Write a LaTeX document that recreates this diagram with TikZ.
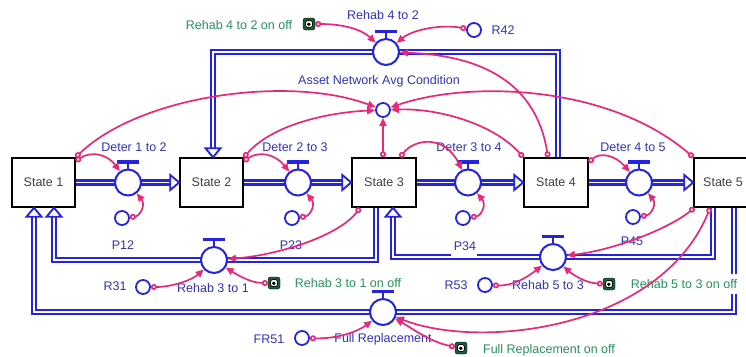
\documentclass[tikz,border=0pt]{standalone}
\usepackage{fontspec}
\setmainfont{Liberation Sans}
\usetikzlibrary{arrows.meta}
\pgfdeclarelayer{back}
\pgfdeclarelayer{bg}
\pgfsetlayers{back,bg,main}
\definecolor{pipeblue}{RGB}{35,35,225}
\definecolor{txtblue}{RGB}{50,50,185}
\definecolor{txtgreen}{RGB}{40,145,95}
\definecolor{linkpink}{RGB}{232,40,120}
\definecolor{swgreen}{RGB}{25,95,55}
\newcommand\valvebar[1]{%
  \draw[pipeblue, line width=1.6pt] (#1.north) -- ++(0,-5);
  \draw[pipeblue, line width=3.2pt] (#1.north) ++(-11,-6.5) -- ++(22,0);}
\newcommand\pipehead[2]{\draw[phead, shift={(#1)}, rotate=#2] (0,0) -- (-9,-7.5) -- (-9,7.5) -- cycle;}
\begin{document}
\begin{tikzpicture}[x=1pt,y=-1pt,
  lbl/.style={font=\fontsize{12.5}{14}\selectfont, text=txtblue, inner sep=1pt, fill=white},
  glbl/.style={lbl, text=txtgreen},
  stock/.style={draw=black, line width=1.5pt, fill=white, minimum width=63pt, minimum height=49pt, font=\fontsize{12.5}{14}\selectfont, text=black!75, inner sep=0pt},
  valve/.style={circle, draw=pipeblue, line width=2pt, fill=white, minimum size=26pt, inner sep=0pt},
  aux/.style={circle, draw=pipeblue, line width=1.8pt, fill=white, minimum size=14pt, inner sep=0pt},
  pipe/.style={draw=pipeblue, double=white, line width=2.3pt, double distance=1.8pt},
  phead/.style={draw=pipeblue, fill=white, line width=1.9pt, line join=miter},
  link/.style={draw=linkpink, line width=1.7pt, arrows={Circle[open,length=6pt,width=6pt]-Triangle[length=8pt,width=7pt]}},
  switch/.style={draw=black, fill=swgreen, rounded corners=2.5pt, minimum size=12pt, inner sep=0pt,
    path picture={\draw[black, fill=white, line width=0.7pt] ([shift={(-3.5pt,-3.5pt)}]path picture bounding box.center) rectangle ([shift={(3.5pt,3.5pt)}]path picture bounding box.center);
      \fill[black] ([shift={(-1.8pt,-2pt)}]path picture bounding box.center) rectangle ([shift={(1.5pt,1.5pt)}]path picture bounding box.center);}}
]
\begin{pgfonlayer}{back}
\fill[white] (0,0) rectangle (746,356);
\end{pgfonlayer}
\useasboundingbox (0,0) rectangle (746,356);

% stocks
\node[stock] (s1) at (43.5,182.5) {State 1};
\node[stock] (s2) at (211.5,182.5) {State 2};
\node[stock, minimum width=64pt] (s3) at (384,182.5) {State 3};
\node[stock, minimum width=64pt] (s4) at (556,182.5) {State 4};
\node[stock, minimum width=58pt] (s5) at (723,182.5) {State 5};

% valves
\node[valve] (v12) at (128,182.5) {};
\node[valve] (v23) at (298,182.5) {};
\node[valve] (v34) at (468,182.5) {};
\node[valve] (v45) at (639,182.5) {};
\node[valve] (v42) at (386,52) {};
\node[valve] (v31) at (214,260) {};
\node[valve] (v53) at (553,257) {};
\node[valve] (vfr) at (383,312) {};
\foreach \v in {v12,v23,v34,v45,v42,v31,v53,vfr} {\valvebar{\v}}

% auxiliaries
\node[aux] (anac) at (383,110) {};
\node[aux] (r42) at (474,30) {};
\node[aux] (p12) at (122,218) {};
\node[aux] (p23) at (292,218) {};
\node[aux] (p34) at (463,218) {};
\node[aux] (p45) at (633,217) {};
\node[aux] (r31) at (143,287) {};
\node[aux] (r53) at (485,285) {};
\node[aux] (fr51) at (302,338) {};

% switches
\node[switch] (sw42) at (309,24) {};
\node[switch] (sw31) at (274,283) {};
\node[switch] (sw53) at (609,284) {};
\node[switch] (swfr) at (461,348) {};

% pipe end points
\coordinate (o42) at ([xshift=2pt]s4.north);
\coordinate (i42) at ([xshift=1.5pt]s2.north);
\coordinate (o31) at ([xshift=-8pt]s3.south);
\coordinate (i31) at ([xshift=10.5pt]s1.south);
\coordinate (o53) at ([xshift=-10pt]s5.south);
\coordinate (i53) at ([xshift=9pt]s3.south);
\coordinate (ofr) at ([xshift=11pt]s5.south);
\coordinate (ifr) at ([xshift=-9.5pt]s1.south);

\begin{pgfonlayer}{bg}
\draw[pipe, shorten >=8pt] (s1.east) -- (s2.west);
\draw[pipe, shorten >=8pt] (s2.east) -- (s3.west);
\draw[pipe, shorten >=8pt] (s3.east) -- (s4.west);
\draw[pipe, shorten >=8pt] (s4.east) -- (s5.west);
\draw[pipe, shorten >=8pt] (o42) |- (v42.center) -| (i42);
\draw[pipe, shorten >=8pt] (o31) |- (v31.center) -| (i31);
\draw[pipe, shorten >=8pt] (o53) |- (v53.center) -| (i53);
\draw[pipe, shorten >=8pt] (ofr) |- (vfr.center) -| (ifr);
\end{pgfonlayer}

\pipehead{s2.west}{0}
\pipehead{s3.west}{0}
\pipehead{s4.west}{0}
\pipehead{s5.west}{0}
\pipehead{i42}{-90}
\pipehead{i31}{90}
\pipehead{i53}{90}
\pipehead{ifr}{90}

% gap in pipe below P34 label
\fill[white] (451,252) rectangle (477,256.5);

% labels
\node[lbl] (l12) at (134,147) {Deter 1 to 2};
\node[lbl] (l23) at (295,147) {Deter 2 to 3};
\node[lbl] (l34) at (469,147) {Deter 3 to 4};
\node[lbl] (l45) at (633,147) {Deter 4 to 5};
\node[lbl] (l42) at (383,15) {Rehab 4 to 2};
\node[lbl] (lr42) at (503,30) {R42};
\node[glbl] (lsw42) at (239,25) {Rehab 4 to 2 on off};
\node[lbl] (lanac) at (379,81) {Asset Network Avg Condition};
\node[lbl] (lp12) at (123,245) {P12};
\node[lbl] (lp23) at (291,245) {P23};
\node[lbl] (lp34) at (465,246) {P34};
\node[lbl] (lp45) at (632,241) {P45};
\node[lbl] (lr31) at (115,286) {R31};
\node[lbl] (l31) at (213,288) {Rehab 3 to 1};
\node[glbl] (lsw31) at (348,283) {Rehab 3 to 1 on off};
\node[lbl] (lr53) at (456,285) {R53};
\node[lbl] (l53) at (548,285) {Rehab 5 to 3};
\node[glbl, inner ysep=5pt] (lsw53) at (684,284) {Rehab 5 to 3 on off};
\node[lbl] (lfr51) at (269,339) {FR51};
\node[lbl] (lfr) at (383,339) {Full Replacement};
\node[glbl] (lswfr) at (549,350) {Full Replacement on off};

% links
\draw[link] (s1.north east) .. controls (140,95) and (290,75) .. (anac);
\draw[link] ([yshift=-4pt]s1.north east) .. controls (92,150) and (108,155) .. (v12);
\draw[link] (s2.north east) .. controls (275,122) and (335,112) .. (anac);
\draw[link] ([yshift=-4pt]s2.north east) .. controls (260,150) and (276,155) .. (v23);
\draw[link] ([xshift=-1pt]s3.north) -- (anac);
\draw[link] ([xshift=16pt]s3.north) .. controls (415,138) and (445,135) .. (v34);
\draw[link] (s4.north west) .. controls (495,125) and (440,108) .. (anac);
\draw[link] ([xshift=-8pt]s4.north) .. controls (535,75) and (470,55) .. (v42);
\draw[link] ([yshift=-5pt]s4.north east) .. controls (600,152) and (615,155) .. (v45);
\draw[link] (s5.north west) .. controls (610,85) and (470,80) .. (anac);
\draw[link] ([xshift=-24pt]s3.south) .. controls (340,235) and (280,255) .. (v31);
\draw[link] ([xshift=1pt]s5.south west) .. controls (670,228) and (615,250) .. (v53);
\draw[link] ([xshift=17pt]s5.south west) .. controls (660,330) and (480,350) .. (vfr);
\draw[link] (r42) .. controls (440,24) and (412,30) .. (v42);
\draw[link] (sw42) .. controls (345,24) and (362,30) .. (v42);
\draw[link] (r31) .. controls (172,287) and (192,280) .. (v31);
\draw[link] (sw31) .. controls (250,283) and (236,274) .. (v31);
\draw[link] (r53) .. controls (515,286) and (530,275) .. (v53);
\draw[link] (sw53) .. controls (585,283) and (572,274) .. (v53);
\draw[link] (fr51) .. controls (340,339) and (360,330) .. (vfr);
\draw[link] (swfr) .. controls (430,342) and (410,327) .. (vfr);
\draw[link] (p12) .. controls (140,216) and (146,205) .. (v12);
\draw[link] (p23) .. controls (310,216) and (316,205) .. (v23);
\draw[link] (p34) .. controls (481,216) and (487,205) .. (v34);
\draw[link] (p45) .. controls (651,215) and (657,204) .. (v45);
\end{tikzpicture}
\end{document}
